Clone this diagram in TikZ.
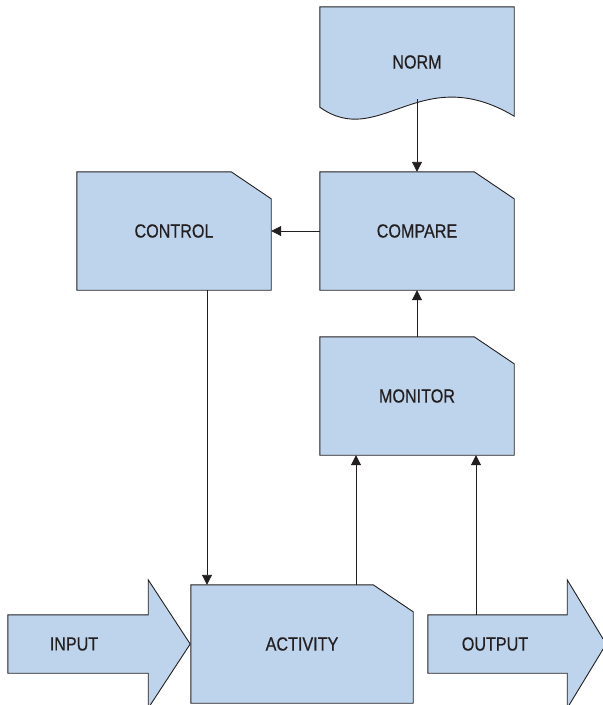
\documentclass[tikz,border=0pt]{standalone}
\usepackage{fontspec}
\setmainfont{Liberation Sans}[FakeStretch=0.85,FakeBold=0.5]
\usetikzlibrary{arrows.meta,backgrounds}
\definecolor{boxfill}{HTML}{BED4EC}
\definecolor{ink}{HTML}{231F20}
\tikzset{
  boxnode/.style={draw=none,inner sep=0pt,minimum width=194pt,minimum height=118pt,text=ink,font=\fontsize{19}{20}\selectfont},
  actnode/.style={boxnode,minimum width=222pt},
  bodynode/.style={draw=none,inner sep=0pt,minimum width=132pt,minimum height=58pt,text=ink,font=\fontsize{19}{20}\selectfont},
  shapefill/.style={fill=boxfill,draw=ink,line width=0.9pt,line join=miter},
  arr/.style={draw=ink,line width=0.9pt,-{Triangle[length=10pt,width=10pt]}},
}
\begin{document}
\begin{tikzpicture}[x=1pt,y=-1pt]
\useasboundingbox (0,0) rectangle (603,705);
% nodes
\node[boxnode,minimum height=110pt] (norm) at (417,62) {NORM};
\node[boxnode] (compare) at (417,231) {COMPARE};
\node[boxnode] (control) at (174,231) {CONTROL};
\node[boxnode] (monitor) at (417,396) {MONITOR};
\node[actnode] (activity) at (302,644) {ACTIVITY};
\node[bodynode] (input) at (74,644) {INPUT};
\node[bodynode] (output) at (495,644) {OUTPUT};
\begin{scope}[on background layer]
  \draw[shapefill] (norm.north west) -- (norm.north east) -- ([yshift=1pt]norm.south east)
     .. controls (420,60) and (380,150) .. ([yshift=10pt]norm.south west) -- cycle;
  \foreach \n in {compare,control,monitor,activity}{
    \draw[shapefill] (\n.south west) -- (\n.north west) -- ([xshift=-40pt]\n.north east)
      -- ([yshift=-27pt]\n.north east) -- (\n.south east) -- cycle;
  }
  \draw[shapefill] (input.south west) -- (input.north west)
     -- ([xshift=8pt]input.north east)
     -- ([xshift=8pt,yshift=35pt]input.north east) -- ([xshift=50pt]input.east)
     -- ([xshift=8pt,yshift=-35pt]input.south east) -- ([xshift=8pt]input.south east) -- cycle;
  \draw[shapefill] ([xshift=-1pt]output.south west) -- ([xshift=-1pt]output.north west)
     -- ([xshift=6pt]output.north east)
     -- ([xshift=6pt,yshift=35pt]output.north east) -- ([xshift=45pt]output.east)
     -- ([xshift=6pt,yshift=-35pt]output.south east) -- ([xshift=6pt]output.south east) -- cycle;
\end{scope}
% connectors
\draw[arr] ([yshift=-37pt]norm.center) -- (compare.north);
\draw[arr] (compare.west) -- (control.east);
\draw[arr] (monitor.north) -- (compare.south);
\draw[arr] ([xshift=33pt]control.south) -- ([xshift=33pt]control.south |- activity.north);
\draw[arr] ([xshift=-61pt]monitor.south |- activity.north) -- ([xshift=-61pt]monitor.south);
\draw[arr] ([xshift=59pt]monitor.south |- output.north) -- ([xshift=59pt]monitor.south);
\end{tikzpicture}
\end{document}
